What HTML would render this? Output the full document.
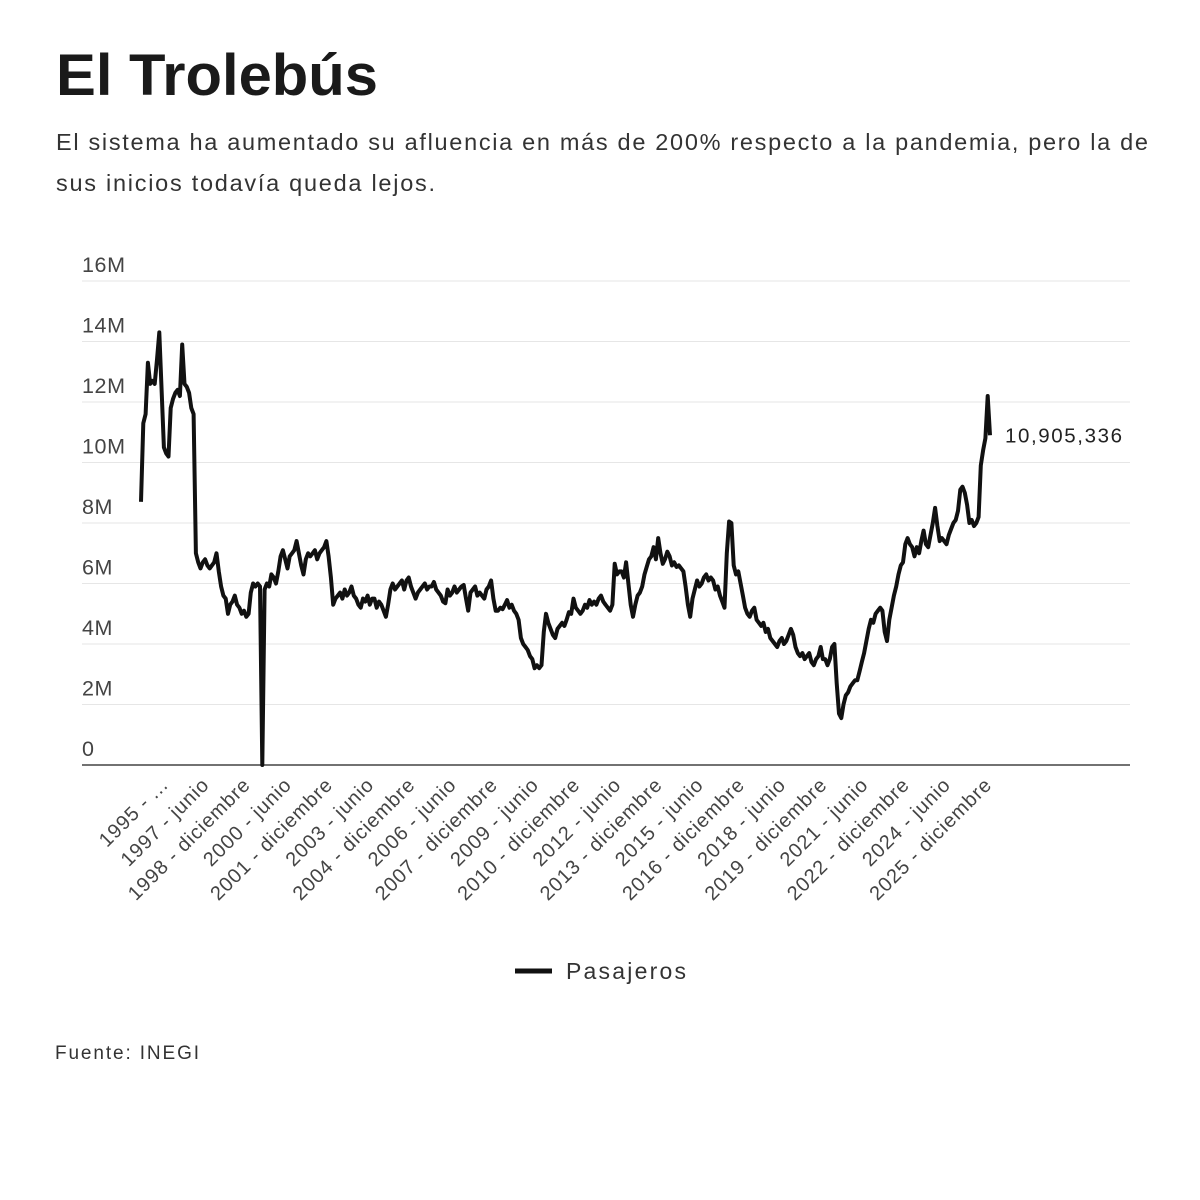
<!DOCTYPE html>
<html><head><meta charset="utf-8"><style>
html,body{margin:0;padding:0;background:#fff;}
svg{display:block;font-family:"Liberation Sans",sans-serif;}
</style></head><body>
<svg id="chart" width="1200" height="1200" viewBox="0 0 1200 1200">
<text x="56" y="95" font-size="58" font-weight="bold" fill="#1a1a1a" textLength="322" lengthAdjust="spacingAndGlyphs">El Trolebús</text>
<text x="56" y="150" font-size="23.5" fill="#333" textLength="1092">El sistema ha aumentado su afluencia en más de 200% respecto a la pandemia, pero la de</text>
<text x="56" y="191" font-size="23.5" fill="#333" textLength="379">sus inicios todavía queda lejos.</text>
<g id="grid"></g>
<g id="yaxis"></g>
<g id="xaxis"></g>
<path id="line" fill="none" stroke="#111" stroke-width="4" stroke-linejoin="round"></path>
<text id="lastlabel" font-size="20.5" fill="#222" textLength="117"></text>
<g>
<line x1="515" y1="971" x2="552" y2="971" stroke="#111" stroke-width="5"/>
<text x="566" y="979" font-size="23" fill="#333" textLength="120">Pasajeros</text>
</g>
<text x="55" y="1059" font-size="19" fill="#333" textLength="144">Fuente: INEGI</text>
</svg>
<script>
const yTicks = [0, 2, 4, 6, 8, 10, 12, 14, 16];
const yTickLabels = ["0", "2M", "4M", "6M", "8M", "10M", "12M", "14M", "16M"];
const startYear = 1995;
const xLabelIndices = [11,29,47,65,83,101,119,137,155,173,191,209,227,245,263,281,299,317,335,353,371];
const xTickLabels = ["1995 - ...","1997 - junio","1998 - diciembre","2000 - junio","2001 - diciembre","2003 - junio","2004 - diciembre","2006 - junio","2007 - diciembre","2009 - junio","2010 - diciembre","2012 - junio","2013 - diciembre","2015 - junio","2016 - diciembre","2018 - junio","2019 - diciembre","2021 - junio","2022 - diciembre","2024 - junio","2025 - diciembre"];
const lastValueText = "10,905,336";
// monthly passengers (millions), Jan 1995 - Dec 2025
const pasajeros = [
8.7,11.3,11.6,13.3,12.6,12.7,12.6,13.4,14.3,12.4,10.5,10.3,
10.2,11.8,12.1,12.3,12.4,12.2,13.9,12.6,12.5,12.3,11.8,11.6,
7.0,6.7,6.5,6.7,6.8,6.6,6.5,6.6,6.7,7.0,6.4,5.9,
5.6,5.5,5.0,5.3,5.4,5.6,5.3,5.2,5.0,5.1,4.9,5.0,
5.7,6.0,5.9,6.0,5.9,0.0,5.8,6.0,5.9,6.3,6.2,6.0,
6.4,6.9,7.1,6.8,6.5,6.9,7.0,7.1,7.4,7.0,6.6,6.3,
6.8,7.0,6.9,7.0,7.1,6.8,7.0,7.1,7.2,7.4,6.9,6.2,
5.3,5.5,5.6,5.7,5.5,5.8,5.6,5.7,5.9,5.6,5.5,5.3,
5.2,5.5,5.4,5.6,5.3,5.5,5.5,5.2,5.4,5.3,5.1,4.9,
5.3,5.8,6.0,5.8,5.9,6.0,6.1,5.8,6.1,6.2,5.9,5.7,
5.5,5.7,5.8,5.9,6.0,5.8,5.9,5.9,6.05,5.8,5.7,5.6,
5.4,5.35,5.8,5.6,5.7,5.9,5.7,5.8,5.9,5.95,5.5,5.1,
5.7,5.8,5.9,5.6,5.7,5.6,5.5,5.8,5.9,6.1,5.5,5.1,
5.1,5.2,5.15,5.3,5.45,5.2,5.3,5.1,5.0,4.8,4.2,4.0,
3.9,3.8,3.6,3.5,3.2,3.3,3.2,3.3,4.4,5.0,4.7,4.5,
4.3,4.2,4.5,4.6,4.7,4.6,4.8,5.05,5.0,5.5,5.2,5.1,
5.0,5.1,5.3,5.2,5.45,5.3,5.4,5.3,5.5,5.6,5.4,5.3,
5.2,5.1,5.3,6.65,6.3,6.4,6.4,6.2,6.7,6.0,5.3,4.9,
5.3,5.6,5.7,5.9,6.3,6.55,6.8,6.9,7.2,6.8,7.5,7.0,
6.65,6.8,7.05,6.9,6.6,6.7,6.55,6.6,6.5,6.4,5.9,5.3,
4.9,5.5,5.8,6.1,5.9,6.0,6.2,6.3,6.1,6.2,6.1,5.8,
5.9,5.6,5.4,5.2,7.0,8.05,8.0,6.6,6.3,6.4,6.0,5.6,
5.2,5.0,4.9,5.1,5.2,4.8,4.7,4.6,4.7,4.4,4.5,4.2,
4.1,4.0,3.9,4.1,4.2,4.0,4.1,4.3,4.5,4.3,3.9,3.7,
3.6,3.7,3.5,3.6,3.7,3.4,3.3,3.5,3.6,3.9,3.5,3.5,
3.3,3.5,3.9,4.0,2.7,1.7,1.55,2.0,2.3,2.4,2.6,2.7,
2.8,2.8,3.1,3.4,3.7,4.1,4.5,4.8,4.7,5.0,5.1,5.2,
5.1,4.4,4.1,4.8,5.2,5.6,5.9,6.3,6.6,6.7,7.3,7.5,
7.3,7.2,6.9,7.2,7.0,7.4,7.75,7.3,7.2,7.6,8.0,8.5,
7.9,7.4,7.5,7.4,7.3,7.6,7.8,8.0,8.1,8.4,9.1,9.2,
9.0,8.6,8.0,8.1,7.9,8.0,8.2,9.9,10.4,10.8,12.2,10.9
];
const NS = "http://www.w3.org/2000/svg";
const X0 = 141, X1 = 990, Y0 = 765, Y1 = 281, VMAX = 16;
function xScale(i){ return X0 + (X1 - X0) * i / (pasajeros.length - 1); }
function yScale(v){ return Y0 - (Y0 - Y1) * v / VMAX; }
function mk(tag, attrs, parent){ const e = document.createElementNS(NS, tag); for (const k in attrs) e.setAttribute(k, attrs[k]); parent.appendChild(e); return e; }
const grid = document.getElementById('grid');
const yaxis = document.getElementById('yaxis');
yTicks.forEach((t, i) => {
  const y = yScale(t);
  const ln = mk('line', {x1: 82, x2: 1130, y1: y, y2: y, stroke: t === 0 ? '#444' : '#e6e6e6', 'stroke-width': t === 0 ? 1.5 : 1}, grid);
  
  
  const tx = mk('text', {x: 82, y: y - 9, 'font-size': 21.5, fill: '#444', 'letter-spacing': 0.6}, yaxis);
  tx.textContent = yTickLabels[i];
  
  
});
const xaxis = document.getElementById('xaxis');
xLabelIndices.forEach((idx, i) => {
  const x = xScale(idx) + 3, y = 786;
  const tx = mk('text', {x: x, y: y, 'font-size': 20, fill: '#444', 'letter-spacing': 0.9, 'text-anchor': 'end', transform: 'rotate(-45 ' + x + ' ' + y + ')'}, xaxis);
  tx.textContent = xTickLabels[i];
  
  
});
let d = '';
pasajeros.forEach((v, i) => { d += (i ? 'L' : 'M') + xScale(i).toFixed(1) + ',' + yScale(v).toFixed(1); });
document.getElementById('line').setAttribute('d', d);
const last = pasajeros.length - 1;
const ll = document.getElementById('lastlabel');
ll.setAttribute('x', xScale(last) + 15);
ll.setAttribute('y', yScale(pasajeros[last]) + 7);
ll.textContent = lastValueText;
</script>
</body></html>
